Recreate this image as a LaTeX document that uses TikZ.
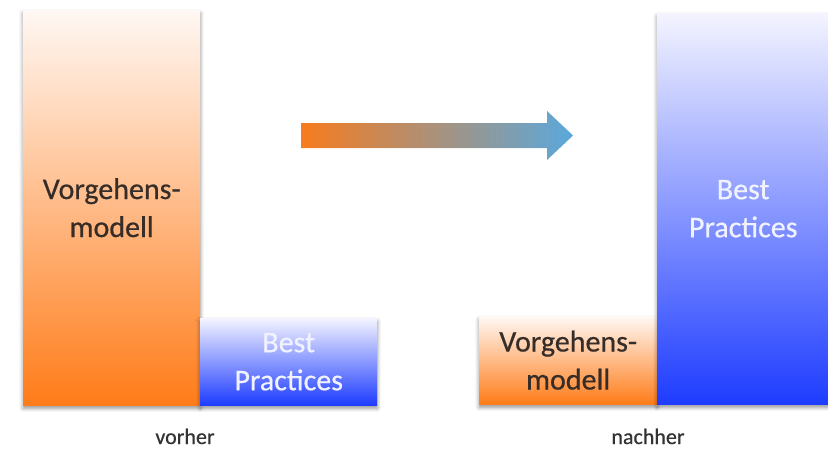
\documentclass[tikz,border=0pt]{standalone}
\usepackage{fontspec}
\setmainfont{Carlito}
\newfontfamily\barfont{Carlito}[FakeBold=0.6]
\usetikzlibrary{shadows.blur}
\definecolor{ora}{RGB}{255,124,25}
\definecolor{oratop}{RGB}{255,248,244}
\definecolor{blu}{RGB}{30,60,255}
\definecolor{blutop}{RGB}{244,244,255}
\definecolor{arrO}{RGB}{247,124,30}
\definecolor{arrB}{RGB}{90,168,220}
\definecolor{dtext}{RGB}{55,45,40}
\definecolor{ltext}{RGB}{240,242,255}
\tikzset{
  bar/.style={rectangle, inner sep=0pt, anchor=north west, align=center,
    font=\barfont\fontsize{30}{38}\selectfont,
    blur shadow={shadow xshift=0pt, shadow yshift=-3pt, shadow blur radius=4pt, shadow opacity=45}},
  obar/.style={bar, top color=oratop, bottom color=ora, text=dtext},
  bbar/.style={bar, top color=blutop, bottom color=blu, text=ltext},
  caption/.style={inner sep=0.5pt, anchor=base, font=\barfont\fontsize{22}{24}\selectfont, text=black!80}
}
\begin{document}
\begin{tikzpicture}[x=1pt,y=-1pt]
\useasboundingbox (0,0) rectangle (828,450);
% left group (vorher)
\node[obar, minimum width=177pt, minimum height=395pt] (vm1) at (23,10) {Vorgehens-\\modell};
\node[bbar, minimum width=177pt, minimum height=87pt] (bp1) at (200,318) {Best\\Practices};
% right group (nachher)
\node[obar, minimum width=178pt, minimum height=88pt] (vm2) at (479,316) {Vorgehens-\\modell};
\node[bbar, minimum width=172pt, minimum height=391pt] (bp2) at (657,13) {Best\\Practices};
% captions
\node[caption] (vorher) at (185,444) {vorher};
\node[caption] (nachher) at (648,444) {nachher};
% arrow
\shade[left color=arrO, right color=arrB]
  (301,123) -- (547,123) -- (547,111) -- (573,135.5) -- (547,160) -- (547,148) -- (301,148) -- cycle;
\end{tikzpicture}
\end{document}
